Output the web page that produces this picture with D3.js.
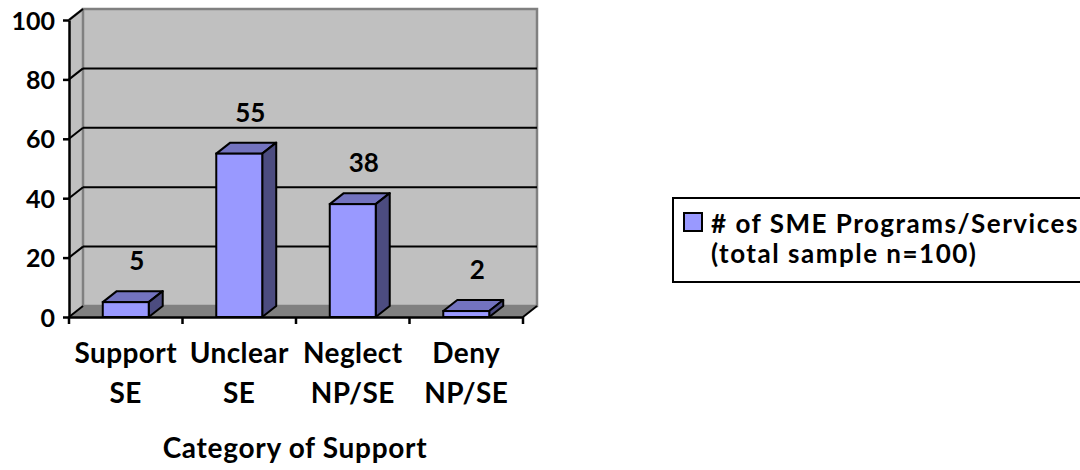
<!DOCTYPE html>
<html>
<head>
<meta charset="utf-8">
<script src="https://cdn.jsdelivr.net/npm/d3@7"></script>
<style>
  body { margin: 0; background: #fff; }
  svg text { font-family: Lato, "Open Sans", sans-serif; font-weight: bold; fill: #000; }
</style>
</head>
<body>
<svg id="chart" width="1080" height="470"></svg>
<script>
// data
const categories = [["Support", "SE"], ["Unclear", "SE"], ["Neglect", "NP/SE"], ["Deny", "NP/SE"]];
const values = [5, 55, 38, 2];
const yTicks = [0, 20, 40, 60, 80, 100];
const seriesName = ["# of SME Programs/Services", "(total sample n=100)"];
const axisTitle = "Category of Support";

// layout
const plotLeft = 69, plotRight = 523, plotBottom = 317, plotTop = 20;
const dx = 14, dy = -11; // 3d depth

const svg = d3.select("#chart");

const x = d3.scaleBand()
    .domain(d3.range(categories.length))
    .range([plotLeft, plotRight])
    .paddingInner(0.595)
    .paddingOuter(0.2975);

const xEdges = d3.scaleBand()
    .domain(d3.range(categories.length))
    .range([plotLeft, plotRight]);

const y = d3.scaleLinear()
    .domain([0, 100])
    .range([plotBottom, plotTop]);

///
/// WALLS
///

// left side wall
svg.append("path")
    .attr("d", `M${plotLeft},${y(100)}L${plotLeft + dx},${y(100) + dy}L${plotLeft + dx},${y(0) + dy}L${plotLeft},${y(0)}Z`)
    .attr("fill", "#c0c0c0");

// floor
svg.append("path")
    .attr("d", `M${plotLeft},${y(0)}L${plotLeft + dx},${y(0) + dy}L${plotRight + dx},${y(0) + dy}L${plotRight},${y(0)}Z`)
    .attr("fill", "#808080");

// back wall
svg.append("rect")
    .attr("x", plotLeft + dx)
    .attr("y", y(100) + dy)
    .attr("width", plotRight - plotLeft)
    .attr("height", y(0) - y(100))
    .attr("fill", "#c0c0c0")
    .attr("stroke", "#808080")
    .attr("stroke-width", 2.5);

// top edge of side wall
svg.append("line")
    .attr("x1", plotLeft).attr("y1", y(100))
    .attr("x2", plotLeft + dx).attr("y2", y(100) + dy)
    .attr("stroke", "#808080")
    .attr("stroke-width", 2.5);

// gridlines
const grid = svg.append("g");
grid.selectAll("line.back")
    .data(yTicks.filter(d => d > 0 && d < 100))
    .join("line")
    .attr("class", "back")
    .attr("x1", plotLeft + dx).attr("x2", plotRight + dx)
    .attr("y1", d => y(d) + dy).attr("y2", d => y(d) + dy)
    .attr("stroke", "#000")
    .attr("stroke-width", 2);
grid.selectAll("line.side")
    .data(yTicks)
    .join("line")
    .attr("class", "side")
    .attr("x1", plotLeft).attr("y1", d => y(d))
    .attr("x2", plotLeft + dx).attr("y2", d => y(d) + dy)
    .attr("stroke", "#000")
    .attr("stroke-width", 2);

// floor right edge
svg.append("line")
    .attr("x1", plotRight).attr("y1", y(0))
    .attr("x2", plotRight + dx).attr("y2", y(0) + dy)
    .attr("stroke", "#000")
    .attr("stroke-width", 2);

///
/// BARS
///

const bw = x.bandwidth();
const bars = svg.append("g").selectAll("g")
    .data(values)
    .join("g");

// top face
bars.append("path")
    .attr("d", (d, i) => {
        const x0 = x(i), yt = y(d);
        return `M${x0},${yt}L${x0 + dx},${yt + dy}L${x0 + bw + dx},${yt + dy}L${x0 + bw},${yt}Z`;
    })
    .attr("fill", "#7373bf")
    .attr("stroke", "#000")
    .attr("stroke-width", 2)
    .attr("stroke-linejoin", "round");

// side face
bars.append("path")
    .attr("d", (d, i) => {
        const x1 = x(i) + bw, yt = y(d), yb = y(0);
        return `M${x1},${yt}L${x1 + dx},${yt + dy}L${x1 + dx},${yb + dy}L${x1},${yb}Z`;
    })
    .attr("fill", "#4c4c80")
    .attr("stroke", "#000")
    .attr("stroke-width", 2)
    .attr("stroke-linejoin", "round");

// front face
bars.append("rect")
    .attr("x", (d, i) => x(i))
    .attr("y", d => y(d))
    .attr("width", bw)
    .attr("height", d => y(0) - y(d))
    .attr("fill", "#9999ff")
    .attr("stroke", "#000")
    .attr("stroke-width", 2);

// value labels
svg.append("g").selectAll("text")
    .data(values)
    .join("text")
    .attr("x", (d, i) => x(i) + bw / 2 + 11)
    .attr("y", d => y(d) - 32)
    .attr("text-anchor", "middle")
    .attr("font-size", 26)
    .text(d => d);

///
/// AXES
///

const yAxis = svg.append("g")
    .attr("transform", `translate(${plotLeft},0)`)
    .call(d3.axisLeft(y).tickValues(yTicks).tickSize(6).tickSizeOuter(0).tickPadding(8));
yAxis.attr("font-family", null).attr("font-size", null);
yAxis.select(".domain").attr("stroke", "#000").attr("stroke-width", 2.5);
yAxis.selectAll(".tick line").attr("stroke", "#000").attr("stroke-width", 2.5);
yAxis.selectAll(".tick text")
    .attr("font-size", 25)
    .attr("dy", "0.36em");

const xAxis = svg.append("g")
    .attr("transform", `translate(0,${plotBottom})`)
    .call(d3.axisBottom(xEdges).tickSize(0).tickSizeOuter(0).tickFormat(""));
xAxis.select(".domain").attr("stroke", "#000").attr("stroke-width", 2.5);

// ticks between categories
svg.append("g").selectAll("line")
    .data(d3.range(categories.length + 1))
    .join("line")
    .attr("x1", i => i < categories.length ? xEdges(i) : plotRight)
    .attr("x2", i => i < categories.length ? xEdges(i) : plotRight)
    .attr("y1", plotBottom)
    .attr("y2", plotBottom + 7)
    .attr("stroke", "#000")
    .attr("stroke-width", 2.5);

// category labels
const catLabels = svg.append("g").selectAll("text")
    .data(categories)
    .join("text")
    .attr("text-anchor", "middle")
    .attr("font-size", 28)
    .attr("letter-spacing", 0.4);
catLabels.selectAll("tspan")
    .data((d, i) => d.map(t => ({t, i})))
    .join("tspan")
    .attr("x", d => xEdges(d.i) + xEdges.bandwidth() / 2)
    .attr("y", (d, j) => 363 + j * 40)
    .text(d => d.t);

svg.append("text")
    .attr("x", 295)
    .attr("y", 458)
    .attr("text-anchor", "middle")
    .attr("font-size", 28)
    .attr("letter-spacing", 0.7)
    .text(axisTitle);

///
/// LEGEND
///

const legend = svg.append("g");
legend.append("rect")
    .attr("x", 673).attr("y", 198)
    .attr("width", 440).attr("height", 84)
    .attr("fill", "#fff")
    .attr("stroke", "#000")
    .attr("stroke-width", 2);
legend.append("rect")
    .attr("x", 684).attr("y", 213)
    .attr("width", 18).attr("height", 18)
    .attr("fill", "#9999ff")
    .attr("stroke", "#000")
    .attr("stroke-width", 2);
legend.append("text")
    .attr("font-size", 26)
    .attr("letter-spacing", 1.5)
    .selectAll("tspan")
    .data(seriesName)
    .join("tspan")
    .attr("x", 711)
    .attr("y", (d, i) => 233 + i * 30)
    .text(d => d);
</script>
</body>
</html>
